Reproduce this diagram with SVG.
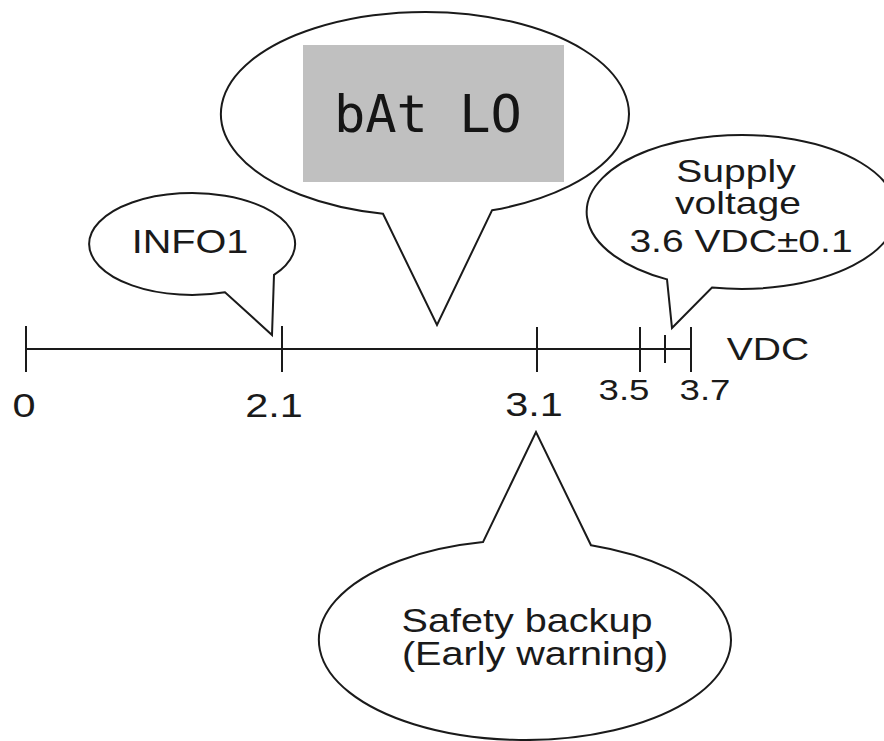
<svg xmlns="http://www.w3.org/2000/svg" width="884" height="741" viewBox="0 0 884 741">
<style>
.bub{fill:#fff;stroke:#1a1a1a;stroke-width:2;stroke-linejoin:miter}
.ln{stroke:#1a1a1a;stroke-width:2;fill:none}
.t{font-family:"Liberation Sans",Arial,sans-serif;fill:#1a1a1a;text-anchor:middle}
.lcd{font-family:"DejaVu Sans Mono","Liberation Mono",monospace;fill:#151515;font-size:52px}
</style>
<rect width="884" height="741" fill="#fff"/>
<g id="axis">
<line class="ln" x1="26" y1="349" x2="691" y2="349"/>
<line class="ln" x1="26" y1="326" x2="26" y2="372"/>
<line class="ln" x1="282" y1="326" x2="282" y2="372"/>
<line class="ln" x1="537" y1="327" x2="537" y2="372"/>
<line class="ln" x1="640" y1="327" x2="640" y2="372"/>
<line class="ln" x1="665" y1="335" x2="665" y2="363"/>
<line class="ln" x1="691" y1="327" x2="691" y2="372"/>
<text class="t" font-size="34" transform="translate(24,417) scale(1.22,1)">0</text>
<text class="t" font-size="34" transform="translate(274,417) scale(1.22,1)">2.1</text>
<text class="t" font-size="34" transform="translate(534,416) scale(1.22,1)">3.1</text>
<text class="t" font-size="30" transform="translate(624,400) scale(1.22,1)">3.5</text>
<text class="t" font-size="30" transform="translate(705,400) scale(1.22,1)">3.7</text>
<text class="t" font-size="32" transform="translate(768,360) scale(1.22,1)">VDC</text>
</g>
<g id="batlo">
<path class="bub" d="M 383 213.8 A 204 102 0 1 1 492 210.3 L 437 325 Z"/>
<rect x="303" y="45" width="261" height="137" fill="#c0c0c0"/>
<text class="lcd" x="334" y="132">bAt LO</text>
</g>
<g id="info1">
<path class="bub" d="M 225 292.3 A 103 51 0 1 1 274 274.9 L 272 335 Z"/>
<text class="t" font-size="33" transform="translate(190,253) scale(1.2,1)">INFO1</text>
</g>
<g id="supply">
<path class="bub" d="M 667 279.4 A 155 77 0 1 1 712 287.5 L 672 328 Z"/>
<text class="t" font-size="32" transform="translate(736,182) scale(1.22,1)">Supply</text>
<text class="t" font-size="32" transform="translate(738,214) scale(1.22,1)">voltage</text>
<text class="t" font-size="32" transform="translate(741,252) scale(1.22,1)">3.6 VDC±0.1</text>
</g>
<g id="safety">
<path class="bub" d="M 591 545.3 A 206 100 0 1 1 483 542.1 L 536 432 Z"/>
<text class="t" font-size="33" transform="translate(527,632) scale(1.2,1)">Safety backup</text>
<text class="t" font-size="33" transform="translate(535,665) scale(1.2,1)">(Early warning)</text>
</g>
</svg>
